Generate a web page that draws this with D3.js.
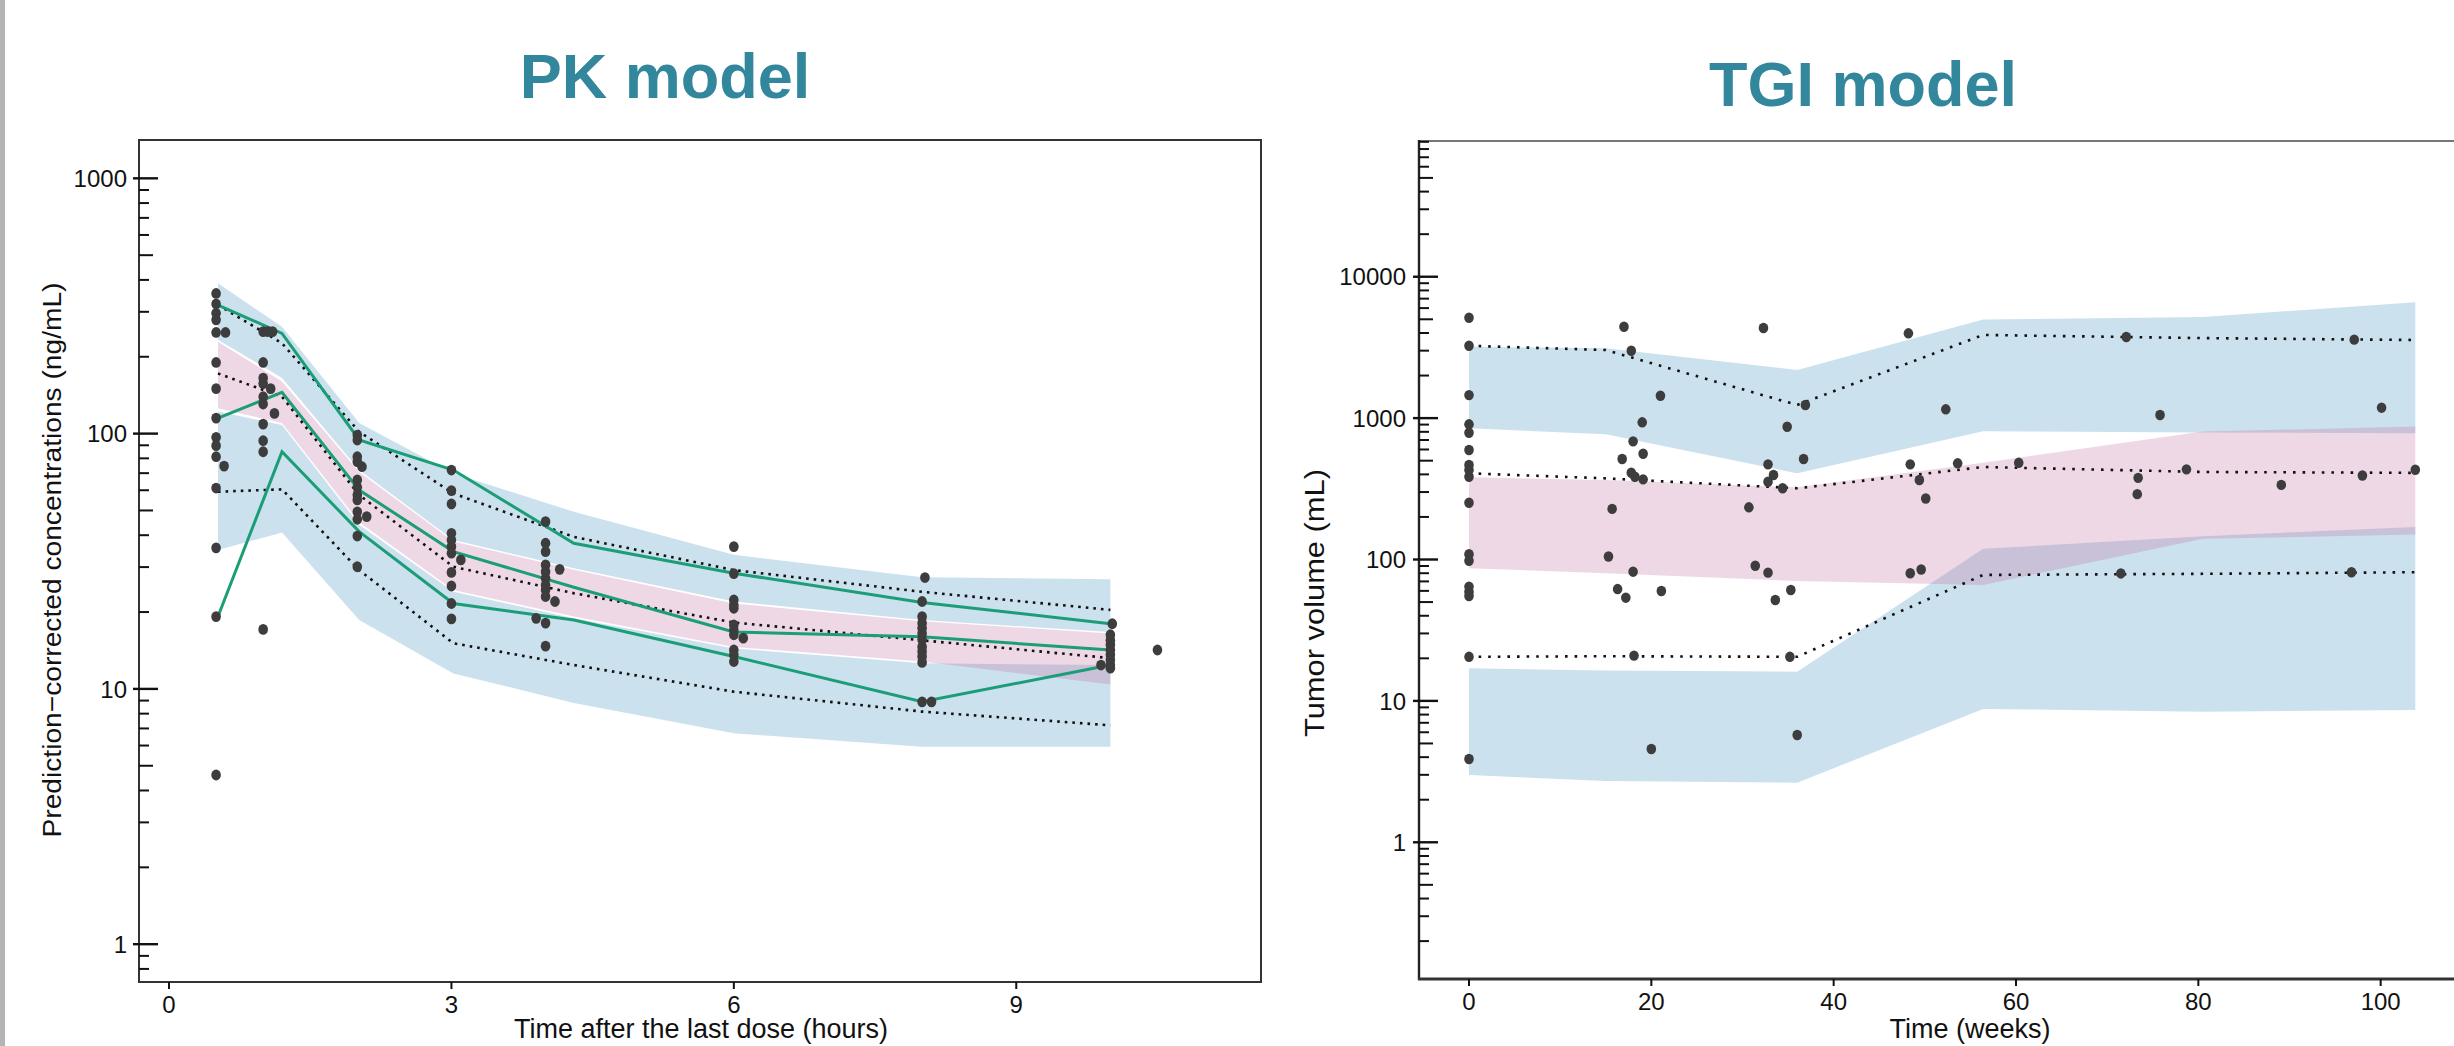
<!DOCTYPE html>
<html><head><meta charset="utf-8">
<script src="https://cdn.jsdelivr.net/npm/d3@7/dist/d3.min.js"></script>
<style>
html,body{margin:0;padding:0;background:#fff;overflow:hidden;}
svg{display:block;}
text{font-family:"Liberation Sans", Arial, sans-serif;}
</style></head><body>
<svg id="chart" width="2454" height="1046"></svg>
<script>
// ---------------- PK model data ----------------
const pkXTicks = [0, 3, 6, 9];
const pkYLabels = [1, 10, 100, 1000];
const pkBinTime = [0.52, 1.2, 2.02, 3.02, 4.3, 6, 8, 10];
// observed percentiles (green)
const pkObsP95 = [319, 247, 94.4, 72, 37.2, 28.4, 21.8, 18];
const pkObsP50 = [115, 145, 60.1, 34.5, 25, 16.7, 16, 14.2];
const pkObsP05 = [19.2, 84.9, 41.3, 21.6, 18.6, 13.4, 8.9, 12.4];
// simulated median percentiles (dotted)
const pkSimP95 = [319, 226, 101.7, 58.3, 39.4, 29.2, 24, 20.4];
const pkSimP50 = [172, 139.5, 57.5, 30.1, 23.7, 18.2, 15.5, 13.2];
const pkSimP05 = [59.2, 60.5, 29.2, 15.1, 12.4, 9.75, 8.15, 7.2];
// prediction intervals (bands)
const pkPI95Lo = [233, 165, 72, 38.3, 29.7, 22, 18.6, 16.7];
const pkPI95Hi = [388, 262, 110, 69.9, 49.4, 33.5, 27.4, 26.9];
const pkPI50Lo = [125.6, 110, 45, 24.4, 19.2, 14.6, 12.8, 10.4];
const pkPI50Hi = [229, 160, 70.8, 37.8, 29.3, 21.6, 18.4, 16.5];
const pkPI05Lo = [35, 41, 18.6, 11.5, 8.8, 6.7, 5.94, 5.94];
const pkPI05Hi = [122, 108, 44, 24, 18.9, 14.4, 12.6, 12.4];
// observed prediction-corrected concentrations
const pkObsTime = [
  0.5,0.5,0.5,0.5,0.5,0.6,0.5,0.5,0.5,0.5,0.5,0.5,0.585,0.5,0.5,0.5,0.5,
  1.0,1.05,1.1,1.0,1.0,1.0,1.08,1.0,1.0,1.12,1.0,1.0,1.0,1.0,
  2,2,2,2,2.05,2,2,2,2,2,2,2.1,2,2,
  3,3,3,3,3,3,3,3.1,3,3,3,3,
  4,4,4,4,4,4,4,4,4,4.15,4.1,3.9,4,4,
  6,6,6,6,6,6,6,6,6.1,6,6,6,
  8.03,8,8,8,8,8,8,8,8,8,8,8,8.1,
  10.02,10,10,10,10,10,10,9.9,10,10,
  10.5];
const pkObsConc = [
  354,322,296,279,249,249,190,150,115,96.7,89.7,81.2,74.6,61.2,35.7,19.2,4.6,
  251,251,251,190,165,157,150,139.5,130.6,120,109,93.8,84.9,17.1,
  98.7,94.4,81.2,77.6,74.2,65.8,61.6,57.5,55,49.4,46.2,47.3,39.7,30.1,
  72,59.8,53,40.7,38.3,36.1,34,32,28.6,25.3,21.6,18.8,
  45.2,37.2,34.5,30.6,28.8,27.1,25.5,24.4,23,29.4,22,18.9,18.1,14.7,
  36.1,28.3,22.3,21.3,20.7,17.8,17,16.3,15.8,14.2,13.6,12.8,
  27.3,22,19.2,18.1,17.3,16.5,15.6,14.6,14,13.4,12.7,8.9,8.9,
  18,16.3,15.5,14.9,14.2,13.6,13,12.4,12.4,12.05,
  14.2];

// ---------------- TGI model data ----------------
const tgiXTicks = [0, 20, 40, 60, 80, 100];
const tgiYLabels = [1, 10, 100, 1000, 10000];
const tgiBinWeek = [0, 15, 36, 56.4, 80.5, 103.8];
const tgiSimP95 = [3250, 3030, 1238, 3875, 3680, 3570];
const tgiSimP50 = [407, 375, 319, 451, 416, 410];
const tgiSimP05 = [20.5, 20.7, 20.5, 77.8, 79.2, 81.3];
const tgiPI95Lo = [847, 768, 407, 808, 792, 782];
const tgiPI95Hi = [3200, 3115, 2188, 4980, 5200, 6600];
const tgiPI50Lo = [86.6, 80, 70.5, 66, 140, 150];
const tgiPI50Hi = [381, 365, 324, 483, 803, 871];
const tgiPI05Lo = [2.99, 2.71, 2.64, 8.77, 8.39, 8.62];
const tgiPI05Hi = [17, 16.4, 16.1, 119, 146, 170];
const tgiObsWeek = [
  0,0,0,0,0,0,0,0,0,0,0,0,0,0,0,0,0,
  17.0,17.8,21.0,19.0,18.0,19.1,16.8,17.8,18.2,19.1,15.7,15.3,18.0,16.3,17.2,21.1,18.1,20.0,
  32.3,36.9,34.9,36.7,32.8,33.4,32.8,34.4,30.7,31.4,32.8,35.3,33.6,35.2,36.0,
  48.2,52.3,48.4,49.4,50.1,53.6,48.4,49.6,
  60.3,
  72.1,75.8,73.4,73.3,78.7,71.5,
  89.1,
  97.1,100.1,98.0,103.8,96.8];
const tgiObsVol = [
  5130,3250,1455,904,788,595,466,430,385,252,109,98,64.3,59.2,55.2,20.5,3.88,
  4430,2998,1440,934,685,560,514,411,385,369,228,105,82,61.8,53.7,59.9,20.9,4.57,
  4340,1238,869,514,471,396,355,319,234,90.4,80.7,60.9,51.7,20.5,5.74,
  3980,1154,471,365,270,479,80,85,
  483,
  3750,1052,378,290,434,79.7,
  337,
  3590,1185,393,431,81.3];

// ---------------- drawing ----------------
const svg = d3.select("#chart");
svg.append("rect").attr("x",0).attr("y",0).attr("width",2454).attr("height",1046).attr("fill","#fff");
svg.append("rect").attr("x",0).attr("y",0).attr("width",5).attr("height",1046).attr("fill","#b4b4b4");

const BLUE = "rgb(51,136,187)", PINK = "rgb(191,99,151)", BAND_OP = 0.25;
const GREEN = "#1b9e77", DOT = "#3d3d3d";
const TITLE = "#33879d";

function logTickSets(domain) {
  const lo = Math.floor(Math.log10(domain[0])), hi = Math.ceil(Math.log10(domain[1]));
  const major = [], mid = [], minor = [];
  for (let e = lo; e <= hi; e++) {
    for (let k = 1; k <= 9; k++) {
      const v = k * Math.pow(10, e);
      if (v < domain[0] || v > domain[1]) continue;
      if (k === 1) major.push(v); else if (k === 5) mid.push(v); else minor.push(v);
    }
  }
  return {major, mid, minor};
}

function drawBands(g, xs, xS, yS, bands) {
  bands.forEach(b => {
    const area = d3.area()
      .x((d, i) => xS(xs[i]))
      .y0((d, i) => yS(b.lo[i]))
      .y1((d, i) => yS(b.hi[i]));
    g.append("path").attr("d", area(xs)).attr("fill", b.fill).attr("fill-opacity", BAND_OP);
  });
}
function drawLine(g, xs, ys, xS, yS, attrs) {
  const line = d3.line().x((d, i) => xS(xs[i])).y((d, i) => yS(ys[i]));
  const p = g.append("path").attr("d", line(xs)).attr("fill", "none");
  Object.entries(attrs).forEach(([k, v]) => p.attr(k, v));
}
function drawYAxis(g, yS, x0, labels, labelX, fmt) {
  const t = logTickSets(yS.domain());
  g.selectAll(null).data(t.minor).join("line")
    .attr("x1", x0).attr("x2", x0 + 10).attr("y1", d => yS(d)).attr("y2", d => yS(d))
    .attr("stroke", "#111").attr("stroke-width", 2);
  g.selectAll(null).data(t.mid).join("line")
    .attr("x1", x0).attr("x2", x0 + 14).attr("y1", d => yS(d)).attr("y2", d => yS(d))
    .attr("stroke", "#111").attr("stroke-width", 2);
  g.selectAll(null).data(t.major).join("line")
    .attr("x1", x0 - 6).attr("x2", x0 + 19).attr("y1", d => yS(d)).attr("y2", d => yS(d))
    .attr("stroke", "#111").attr("stroke-width", 2.4);
  g.selectAll(null).data(labels).join("text")
    .attr("x", labelX).attr("y", d => yS(d)).attr("dy", "0.36em")
    .attr("text-anchor", "end").attr("font-size", 24).attr("fill", "#111")
    .text(fmt);
}
function drawXAxis(g, xS, y0, ticks, labelY) {
  g.selectAll(null).data(ticks).join("line")
    .attr("x1", d => xS(d)).attr("x2", d => xS(d)).attr("y1", y0).attr("y2", y0 + 7)
    .attr("stroke", "#111").attr("stroke-width", 2);
  g.selectAll(null).data(ticks).join("text")
    .attr("x", d => xS(d)).attr("y", labelY).attr("text-anchor", "middle")
    .attr("font-size", 24).attr("fill", "#111").text(d => d);
}

// ===== PK panel =====
const pk = svg.append("g");
const pkX = d3.scaleLinear().domain([-0.319, 11.6]).range([139, 1261]);
const pkY = d3.scaleLog().domain([0.711, 1413]).range([982, 140]);

drawBands(pk, pkBinTime, pkX, pkY, [
  {lo: pkPI95Lo, hi: pkPI95Hi, fill: BLUE},
  {lo: pkPI05Lo, hi: pkPI05Hi, fill: BLUE},
  {lo: pkPI50Lo, hi: pkPI50Hi, fill: PINK}
]);
[pkSimP95, pkSimP50, pkSimP05].forEach(s =>
  drawLine(pk, pkBinTime, s, pkX, pkY, {stroke: "#111", "stroke-width": 2.6, "stroke-dasharray": "2.6 5"}));
[pkObsP95, pkObsP50, pkObsP05].forEach(s =>
  drawLine(pk, pkBinTime, s, pkX, pkY, {stroke: GREEN, "stroke-width": 3}));
pk.selectAll(null).data(pkObsTime).join("ellipse")
  .attr("cx", d => pkX(d)).attr("cy", (d, i) => pkY(pkObsConc[i])).attr("rx", 4.8).attr("ry", 5.4)
  .attr("fill", DOT);

pk.append("rect").attr("x", 139).attr("y", 140).attr("width", 1122).attr("height", 842)
  .attr("fill", "none").attr("stroke", "#333").attr("stroke-width", 2);
drawYAxis(pk, pkY, 139, pkYLabels, 127, d => d);
drawXAxis(pk, pkX, 982, pkXTicks, 1013);

pk.append("text").attr("x", 665).attr("y", 98).attr("text-anchor", "middle")
  .attr("font-size", 63).attr("font-weight", "bold").attr("fill", TITLE).text("PK model");
pk.append("text").attr("x", 701).attr("y", 1038).attr("text-anchor", "middle")
  .attr("font-size", 27).attr("fill", "#111").text("Time after the last dose (hours)");
pk.append("text").attr("transform", "translate(61,560) rotate(-90)").attr("text-anchor", "middle")
  .attr("font-size", 26).attr("fill", "#111")
  .attr("textLength", 555).attr("lengthAdjust", "spacingAndGlyphs")
  .text("Prediction\u2212corrected concentrations (ng/mL)");

// ===== TGI panel =====
const tg = svg.append("g");
const tgX = d3.scaleLinear().domain([-5.485, 109.8]).range([1419, 2470]);
const tgY = d3.scaleLog().domain([Math.pow(10, -0.967), Math.pow(10, 4.96)]).range([979, 141]);

drawBands(tg, tgiBinWeek, tgX, tgY, [
  {lo: tgiPI95Lo, hi: tgiPI95Hi, fill: BLUE},
  {lo: tgiPI05Lo, hi: tgiPI05Hi, fill: BLUE},
  {lo: tgiPI50Lo, hi: tgiPI50Hi, fill: PINK}
]);
[tgiSimP95, tgiSimP50, tgiSimP05].forEach(s =>
  drawLine(tg, tgiBinWeek, s, tgX, tgY, {stroke: "#111", "stroke-width": 2.6, "stroke-dasharray": "2.6 7"}));
tg.selectAll(null).data(tgiObsWeek).join("ellipse")
  .attr("cx", d => tgX(d)).attr("cy", (d, i) => tgY(tgiObsVol[i])).attr("rx", 4.8).attr("ry", 5.2)
  .attr("fill", DOT);

tg.append("line").attr("x1", 1419).attr("x2", 2470).attr("y1", 141).attr("y2", 141)
  .attr("stroke", "#777").attr("stroke-width", 2);
tg.append("line").attr("x1", 1419).attr("x2", 1419).attr("y1", 140).attr("y2", 980)
  .attr("stroke", "#222").attr("stroke-width", 2.4);
tg.append("line").attr("x1", 1418).attr("x2", 2470).attr("y1", 979).attr("y2", 979)
  .attr("stroke", "#333").attr("stroke-width", 3);
drawYAxis(tg, tgY, 1419, tgiYLabels, 1406, d => d);
drawXAxis(tg, tgX, 979, tgiXTicks, 1010);

tg.append("text").attr("x", 1863).attr("y", 106).attr("text-anchor", "middle")
  .attr("font-size", 63).attr("font-weight", "bold").attr("fill", TITLE).text("TGI model");
tg.append("text").attr("x", 1970).attr("y", 1038).attr("text-anchor", "middle")
  .attr("font-size", 27).attr("fill", "#111").text("Time (weeks)");
tg.append("text").attr("transform", "translate(1324,603) rotate(-90)").attr("text-anchor", "middle")
  .attr("font-size", 27).attr("fill", "#111")
  .attr("textLength", 268).attr("lengthAdjust", "spacingAndGlyphs")
  .text("Tumor volume (mL)");
</script>
</body></html>
